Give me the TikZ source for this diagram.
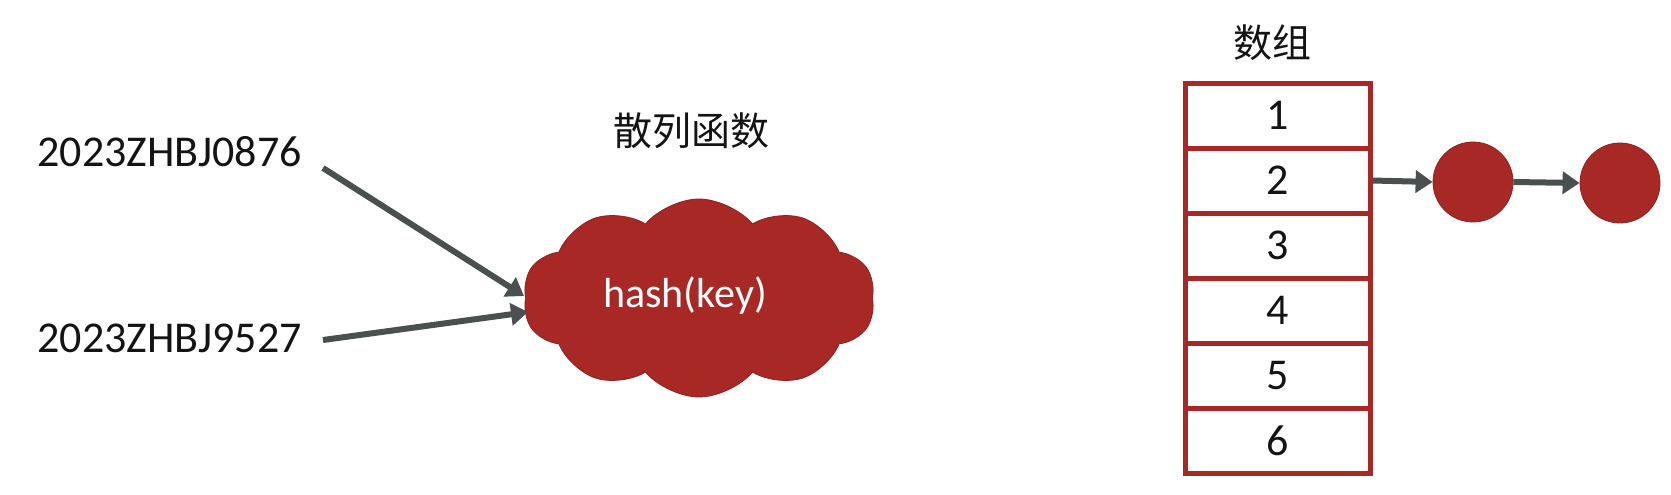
\documentclass[tikz,border=0pt]{standalone}
\usepackage{fontspec}
\setmainfont{Carlito}
\newfontfamily\cjk{Noto Sans CJK SC}
\usetikzlibrary{shapes.symbols,shapes.geometric,arrows.meta}
\definecolor{hashred}{RGB}{168,40,38}
\definecolor{arrgray}{RGB}{74,79,80}
\definecolor{txt}{RGB}{20,20,20}
\tikzset{
  keytext/.style={font=\fontsize{22}{26}\selectfont, text=txt, inner sep=0pt, anchor=west},
  title/.style={font=\cjk\fontsize{19.5}{23}\selectfont, text=txt, inner sep=0pt},
  arr/.style={draw=arrgray, line width=3pt, -{Triangle[length=8.5pt,width=11pt]}},
  cell/.style={draw=hashred, line width=2.5pt, minimum width=92.5pt, minimum height=32.5pt,
    inner sep=0pt, font=\fontsize{22}{26}\selectfont, text=txt},
  ball/.style={circle, fill=hashred, draw=hashred!85!black, line width=0.4pt, minimum size=40pt, inner sep=0pt},
}
\begin{document}
\begin{tikzpicture}[x=0.5pt,y=-0.5pt]
\useasboundingbox (0,0) rectangle (1671,494);
% left keys
\node[keytext] (k1) at (37,152) {2023ZHBJ0876};
\node[keytext] (k2) at (37,338) {2023ZHBJ9527};
% hash function cloud
\node[title] (ht) at (691,131) {散列函数};
\node[cloud, cloud puffs=10, cloud puff arc=100, aspect=1.8, fill=hashred, draw=hashred!85!black,
  line width=0.4pt, minimum width=176pt, minimum height=99pt, inner sep=0pt] (cl) at (699,298) {};
\node[font=\fontsize{21}{25}\selectfont, text=white, inner sep=0pt] (hk) at (685,296) {hash(key)};
\coordinate (s1) at (323,168);
\coordinate (e1) at (524,296);
\coordinate (s2) at (323,340);
\coordinate (e2) at (528,312);
\draw[arr] (s1) -- (e1);
\draw[arr] (s2) -- (e2);
% array
\node[title] (at) at (1272,43) {数组};
\foreach \i in {1,...,6} {
  \node[cell] (c\i) at (1277.5,{83+32.5+65*(\i-1)}) {\i};
}
% linked nodes
\node[ball] (b1) at (1473,182) {};
\node[ball] (b2) at (1620,183) {};
\draw[arr] (c2.east) -- (b1.west);
\draw[arr] (b1.east) -- (b2.west);
\end{tikzpicture}
\end{document}
